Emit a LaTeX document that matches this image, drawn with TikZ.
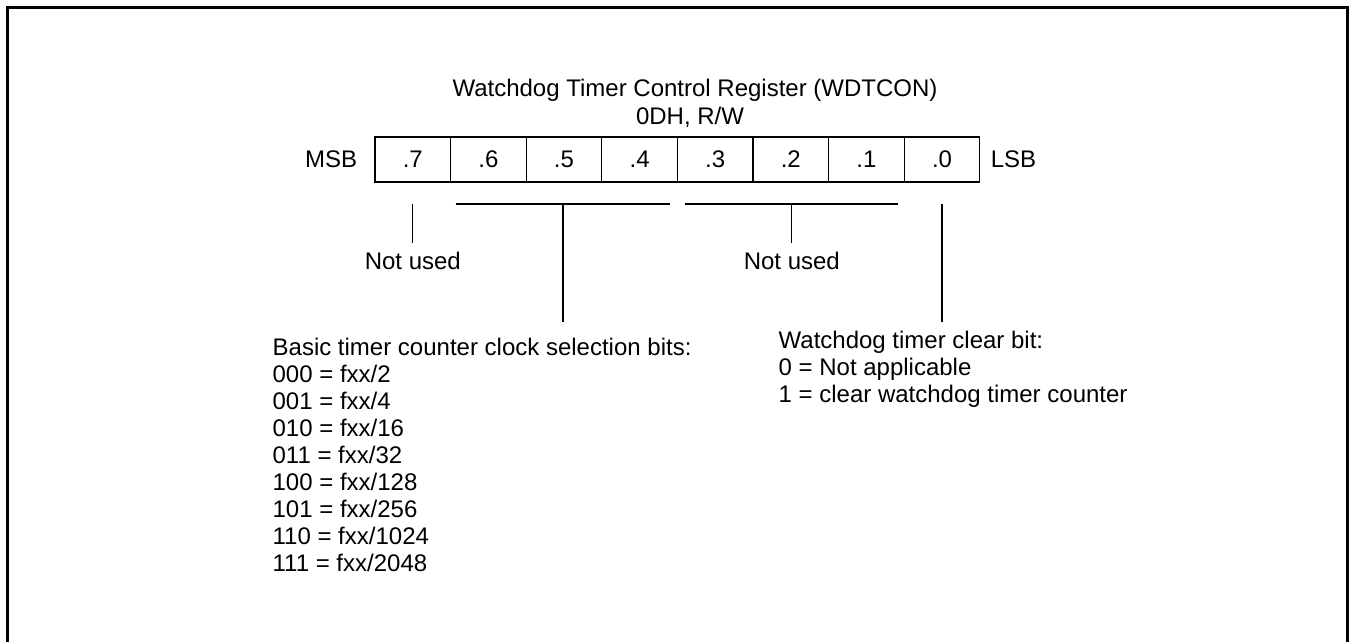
\documentclass[tikz,border=0pt]{standalone}
\usepackage{fontspec}
\setmainfont{Liberation Sans}
\usetikzlibrary{positioning,calc}

\begin{document}
\begin{tikzpicture}[
  x=1pt,y=-1pt,
  line width=1.3pt,
  every node/.style={font=\fontsize{24}{25.5}\selectfont},
  cell/.style={draw,minimum width=75.6pt,minimum height=45pt,
    inner sep=0pt,outer sep=0pt,anchor=west},
  nulabel/.style={inner sep=0pt,outer xsep=0pt,outer ysep=9pt},
  desc/.style={anchor=north west,align=left,inner sep=0pt,
    font=\fontsize{24}{27}\selectfont},
  frame/.style={line width=3pt}
]
\useasboundingbox (0,0) rectangle (1355,642);

% Rahmen
\draw[frame] (7,660) -- (7,8) -- (1347,8) -- (1347,660);

% Titel
\node[anchor=base] (title) at (695,96) {Watchdog Timer Control Register (WDTCON)};
\node[anchor=base] (addr) at (690,124) {0DH, R/W};

% Registerbits
\foreach \i in {7,...,0}{
  \node[cell] (c\i) at ({375+(7-\i)*75.6},159.5) {.\i};
}
\node[left=14pt of c7] (msb) {MSB};
\node[right=7pt of c0] (lsb) {LSB};

% Bit 7
\coordinate (t7) at ([yshift=-22pt]c7.south);
\node[nulabel,below=39pt of t7] (nu7) {Not used};
\draw (t7) -- (nu7);

% Bits 6-4
\coordinate (b1l) at ([shift={(5pt,-22pt)}]c6.south west);
\coordinate (b1r) at ([shift={(-7pt,-22pt)}]c4.south east);
\draw (b1l) -- (b1r);
\coordinate (b1m) at ($(b1l)!0.5!(b1r)$);
\coordinate (b1e) at ([yshift=-118pt]b1m);
\draw (b1m) -- (b1e);

% Bits 3-1
\coordinate (b2l) at ([shift={(8pt,-22pt)}]c3.south west);
\coordinate (b2r) at ([shift={(-6pt,-22pt)}]c1.south east);
\draw (b2l) -- (b2r);
\coordinate (b2m) at ($(b2l)!0.5!(b2r)$);
\node[nulabel,below=39pt of b2m] (nu2) {Not used};
\draw (b2m) -- (nu2);

% Bit 0
\coordinate (t0) at ([yshift=-22pt]c0.south);
\coordinate (t0e) at ([yshift=-118pt]t0);
\draw (t0) -- (t0e);

% Beschreibungen
\node[desc] (clksel) at (272,337) {Basic timer counter clock selection bits:\\
  000 = fxx/2\\001 = fxx/4\\010 = fxx/16\\011 = fxx/32\\
  100 = fxx/128\\101 = fxx/256\\110 = fxx/1024\\111 = fxx/2048};
\node[desc] (wdtclr) at (778,330) {Watchdog timer clear bit:\\
  0 = Not applicable\\1 = clear watchdog timer counter};
\end{tikzpicture}
\end{document}
